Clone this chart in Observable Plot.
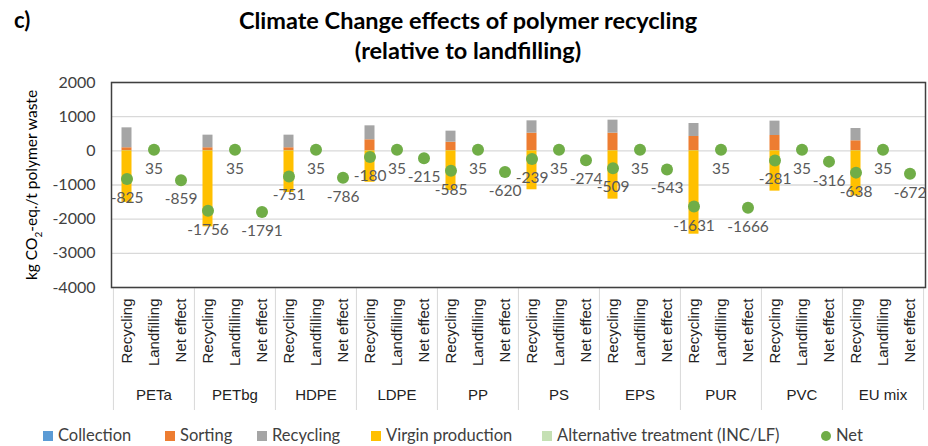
<!DOCTYPE html>
<html>
<head>
<meta charset="utf-8">
<script src="https://cdn.jsdelivr.net/npm/d3@7"></script>
<script src="https://cdn.jsdelivr.net/npm/@observablehq/plot@0.6"></script>
<style>
  html, body { margin: 0; padding: 0; background: #fff; }
  #wrap { position: relative; width: 928px; height: 446px; overflow: hidden; font-family: Lato, "Open Sans", sans-serif; }
  #chart { position: absolute; left: 0; top: 0; }
  .title { position: absolute; left: 0; width: 936px; text-align: center; font-weight: bold; font-size: 23.5px; color: #000; line-height: 30px; }
  .tag { position: absolute; left: 14px; top: 5px; font-weight: bold; font-size: 22px; line-height: 30px; }
  .ylab { position: absolute; left: 33px; top: 185px; transform: translate(-50%, -50%) rotate(-90deg); white-space: nowrap; font-size: 15.5px; color: #000; }
  .leg { position: absolute; top: 426px; height: 18px; line-height: 18px; font-size: 16.5px; color: #404040; white-space: nowrap; }
  .sw { display: inline-block; width: 10px; height: 10px; margin-right: 5px; vertical-align: 0px; }
  .dot { border-radius: 50%; }
</style>
</head>
<body>
<div id="wrap">
  <div id="chart"></div>
  <div class="tag">c)</div>
  <div class="title" style="top:5px">Climate Change effects of polymer recycling</div>
  <div class="title" style="top:35px">(relative to landfilling)</div>
  <div class="ylab">kg CO<sub style="font-size:10px">2</sub>-eq./t polymer waste</div>
  <div id="legend"></div>
</div>
<script>
// ---- data ----
const groups = ["PETa", "PETbg", "HDPE", "LDPE", "PP", "PS", "EPS", "PUR", "PVC", "EU mix"];
const categories = ["Recycling", "Landfilling", "Net effect"];
const seriesNames = ["Collection", "Sorting", "Recycling", "Virgin production", "Alternative treatment (INC/LF)"];
const seriesColors = ["#5B9BD5", "#ED7D31", "#A5A5A5", "#FFC000", "#C5E0B4"];
const netColor = "#70AD47";

const collection       = [10, 10, 10, 10, 10, 10, 10, 10, 10, 10];
const sorting          = [80, 80, 80, 313, 243, 507, 507, 410, 439, 284];
const recyclingProcess = [583, 369, 369, 409, 323, 361, 381, 380, 420, 359];
const virginProduction = [-1510, -2225, -1220, -920, -1165, -1140, -1415, -2440, -1180, -1320];
const altTreatment     = [0, 0, 0, 0, 0, 0, 0, 0, 0, 0];

const netRecycling   = [-825, -1756, -751, -180, -585, -239, -509, -1631, -281, -638];
const netLandfilling = [35, 35, 35, 35, 35, 35, 35, 35, 35, 35];
const netEffect      = [-859, -1791, -786, -215, -620, -274, -543, -1666, -316, -672];

const yTicks = [-4000, -3000, -2000, -1000, 0, 1000, 2000];

// ---- derived tables ----
const key = (g, c) => g + "|" + c;
const xDomain = groups.flatMap(g => categories.map(c => key(g, c)));
const seriesArrays = [collection, sorting, recyclingProcess, virginProduction, altTreatment];
const bars = [];
groups.forEach((g, i) => seriesNames.forEach((s, j) => bars.push({x: key(g, "Recycling"), series: s, value: seriesArrays[j][i]})));
const points = [];
groups.forEach((g, i) => {
  points.push({x: key(g, "Recycling"), value: netRecycling[i]});
  points.push({x: key(g, "Landfilling"), value: netLandfilling[i]});
  points.push({x: key(g, "Net effect"), value: netEffect[i]});
});

const W = 928, H = 446, mL = 111, mR = 3, mT = 82, mB = 159;
const step = (W - mL - mR) / xDomain.length;

const chart = Plot.plot({
  width: W, height: H,
  marginLeft: mL, marginRight: mR, marginTop: mT, marginBottom: mB,
  style: {fontFamily: "Lato, 'Open Sans', sans-serif", fontSize: "15px", background: "white", overflow: "visible"},
  x: {domain: xDomain, padding: 0, axis: null, label: null},
  y: {domain: [-4000, 2000], axis: null, label: null},
  color: {domain: seriesNames, range: seriesColors},
  marks: [
    Plot.gridY(yTicks, {stroke: "#d9d9d9", strokeOpacity: 1, strokeWidth: 1.3}),
    Plot.ruleX(groups, {x: g => key(g, "Recycling"), dx: -step / 2, insetTop: H - mT - mB, insetBottom: -123, stroke: "#d9d9d9", strokeWidth: 1}),
    Plot.ruleX([groups[groups.length - 1]], {x: g => key(g, "Net effect"), dx: step / 2, insetTop: H - mT - mB, insetBottom: -123, stroke: "#d9d9d9", strokeWidth: 1}),
    Plot.barY(bars, {x: "x", y: "value", fill: "series", insetLeft: 8.5, insetRight: 8.5}),
    Plot.frame({stroke: "#404040", strokeWidth: 1.5}),
    Plot.dot(points, {x: "x", y: "value", r: 6, fill: netColor, stroke: null}),
    Plot.text(points, {x: "x", y: "value", text: d => String(d.value), dy: 19, fill: "#595959", fontSize: 15.5}),
    Plot.axisY(yTicks, {label: null, tickFormat: d => String(d), tickSize: 0, tickPadding: 16, fontSize: 16, color: "#404040"}),
    Plot.axisX({label: null, tickFormat: d => d.split("|")[1], tickRotate: -90, tickSize: 0, tickPadding: 11, fontSize: 15, fontFamily: "'Liberation Sans', Arial, sans-serif", color: "#222"}),
    Plot.text(groups, {x: g => key(g, "Landfilling"), frameAnchor: "bottom", dy: 112, text: d => d, fontSize: 15, fontFamily: "'Liberation Sans', Arial, sans-serif", fill: "#222"})
  ]
});
document.getElementById("chart").appendChild(chart);

// legend
const legendX = [43, 165, 257, 371, 542];
const legend = document.getElementById("legend");
seriesNames.forEach((s, i) => {
  const d = document.createElement("div");
  d.className = "leg";
  d.style.left = legendX[i] + "px";
  d.innerHTML = `<span class="sw" style="background:${seriesColors[i]}"></span>${s}`;
  legend.appendChild(d);
});
const n = document.createElement("div");
n.className = "leg";
n.style.left = "821px";
n.innerHTML = `<span class="sw dot" style="background:${netColor}"></span>Net`;
legend.appendChild(n);
</script>
</body>
</html>
